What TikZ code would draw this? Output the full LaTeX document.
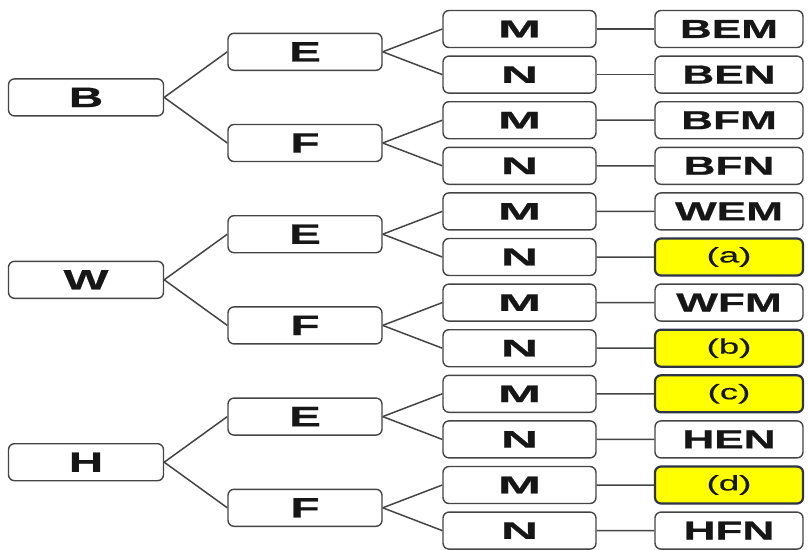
\documentclass[tikz,border=0pt]{standalone}
\usepackage{fontspec}
\newfontfamily\wfont{Liberation Sans}[FakeStretch=1.7,FakeBold=0.7]
\newfontfamily\mnfont{Liberation Sans}[FakeStretch=2.15,FakeBold=0.7]
\newfontfamily\hfont{Liberation Sans}[FakeStretch=1.75,FakeBold=0.4]
\definecolor{boxline}{HTML}{454545}
\definecolor{txt}{HTML}{161616}
\definecolor{hiline}{HTML}{2E3448}
\definecolor{hifill}{HTML}{FFFF00}
\tikzset{
  box/.style={draw=boxline, line width=1.4pt, rounded corners=6pt, minimum height=37pt, inner sep=0pt, fill=white, text=txt},
  lbox/.style={box, minimum width=155pt, font=\wfont\bfseries\fontsize{28}{30}\selectfont},
  mbox/.style={box, minimum width=154pt, font=\wfont\bfseries\fontsize{28}{30}\selectfont},
  sbox/.style={box, minimum width=153pt, font=\mnfont\bfseries\fontsize{24}{27}\selectfont},
  rbox/.style={box, minimum width=148pt, font=\wfont\bfseries\fontsize{26}{28}\selectfont},
  hbox/.style={rbox, fill=hifill, draw=hiline, line width=2.2pt, font=\hfont\fontsize{21}{24}\selectfont},
  conn/.style={draw=boxline, line width=1.5pt}
}
\begin{document}
\begin{tikzpicture}[x=1pt,y=-1pt]
\fill[white] (0,0) rectangle (808,549);
\useasboundingbox (0,0) rectangle (808,549);
\foreach \L [count=\gi from 0] in {B,W,H} {
  \pgfmathsetmacro\yg{29+45.6*(4*\gi+1.5)}
  \node[lbox] (\L) at (86,\yg) {\L};
  \foreach \S [count=\si from 0] in {E,F} {
    \pgfmathsetmacro\ys{29+45.6*(4*\gi+2*\si+0.5)}
    \node[mbox] (\L\S) at (305,\ys) {\S};
    \draw[conn] (\L.east) -- (\L\S.west);
    \foreach \T [count=\ti from 0] in {M,N} {
      \pgfmathsetmacro\yt{29+45.6*(4*\gi+2*\si+\ti)}
      \node[sbox] (\L\S\T) at (519.5,\yt) {\T};
      \draw[conn] (\L\S.east) -- (\L\S\T.west);
    }
  }
}
\node[rbox] (rBEM) at (729,29) {BEM};
\node[rbox] (rBEN) at (729,74.6) {BEN};
\node[rbox] (rBFM) at (729,120.2) {BFM};
\node[rbox] (rBFN) at (729,165.8) {BFN};
\node[rbox] (rWEM) at (729,211.4) {WEM};
\node[hbox] (rWEN) at (729,257) {(a)};
\node[rbox] (rWFM) at (729,302.6) {WFM};
\node[hbox] (rWFN) at (729,348.2) {(b)};
\node[hbox] (rHEM) at (729,393.8) {(c)};
\node[rbox] (rHEN) at (729,439.4) {HEN};
\node[hbox] (rHFM) at (729,485) {(d)};
\node[rbox] (rHFN) at (729,530.6) {HFN};
\foreach \n in {BEM,BEN,BFM,BFN,WEM,WEN,WFM,WFN,HEM,HEN,HFM,HFN} {
  \draw[conn] (\n.east) -- (r\n.west);
}
\end{tikzpicture}
\end{document}
